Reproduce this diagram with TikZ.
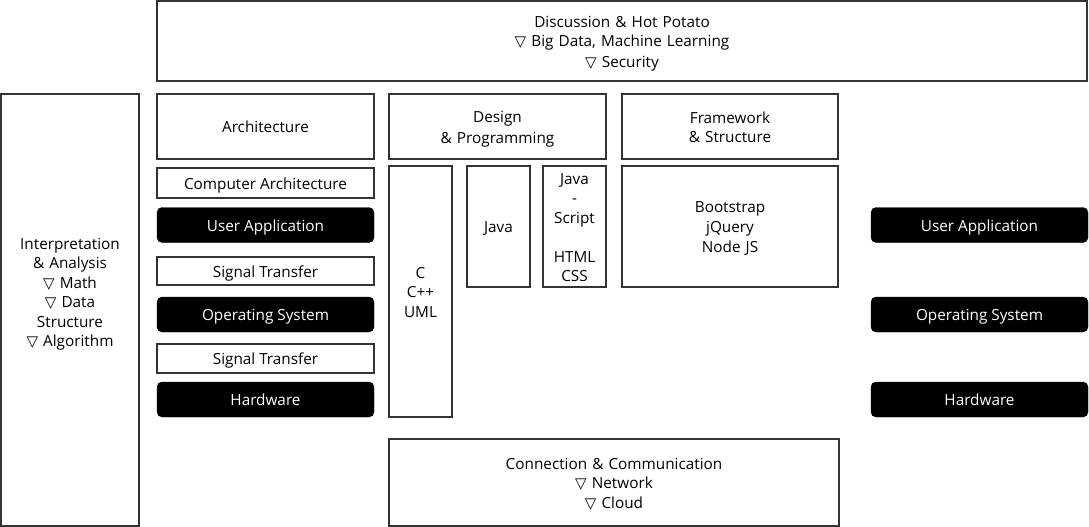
\documentclass[tikz,border=0pt]{standalone}
\usepackage{fontspec}
\setmainfont{Open Sans}
\newfontfamily\symfont{DejaVu Sans}
\newcommand{\tri}{{\symfont\fontsize{15}{15}\selectfont ▽}}
\newcommand{\linestrut}{\rule[-3.5pt]{0pt}{19.5pt}}
\usetikzlibrary{positioning}

\begin{document}
\begin{tikzpicture} [
  x=1pt, y=-1pt,
  every node/.style= {font=\fontsize{15.3}{19.5}\selectfont, align=center, inner sep=0pt,
    execute at begin node=\linestrut, execute at end node=\linestrut},
  plain box/.style= {draw=black!80, line width=1.3pt, fill=white},
  wide box/.style= {plain box, minimum width=217pt},
  black box/.style= {draw=black, fill=black, text=white, rounded corners=5pt, minimum width=217pt, minimum height=35pt},
]
\useasboundingbox (0,0) rectangle (1089,527);

\node (top) [plain box, text width=900pt, minimum width=930pt, minimum height=80pt] at (622,41)
  {Discussion \& Hot Potato\\ \tri\ Big Data, Machine Learning\\ \tri\ Security};
\node (left) [plain box, minimum width=138pt, minimum height=432pt,
  label={[text width=130pt, yshift=18pt]center:{Interpretation\\ \& Analysis\\ \tri\ Math\\ \tri\ Data\\ Structure\\ \tri\ Algorithm}}] at (70,310) {};

% left column
\node (arch) [wide box, minimum height=65pt] at (265.5,126.5) {Architecture};
\node (comparch) [wide box, minimum height=30pt] at (265.5,183) {Computer Architecture};
\node (ua1) [black box] at (265.5,225) {User Application};
\node (st1) [wide box, minimum height=28pt] at (265.5,271) {Signal Transfer};
\node (os1) [black box] at (265.5,314.5) {Operating System};
\node (st2) [wide box, minimum height=29pt] at (265.5,358.5) {Signal Transfer};
\node (hw1) [black box] at (265.5,399.5) {Hardware};

% middle columns
\node (design) [wide box, text width=200pt, minimum height=65pt] at (497.5,126.5) {Design\\ \& Programming};
\node (cc) [plain box, text width=60pt, minimum width=63pt, minimum height=251pt] at (420.5,291.5) {C\\ C++\\ UML};
\node (java) [plain box, minimum width=63pt, minimum height=121pt] at (498.5,226.5) {Java};
\node (js) [plain box, text width=60pt, minimum width=63pt, minimum height=121pt] at (574.5,226.5) {Java\\ -\\ Script\\[19.5pt] HTML\\ CSS};
\node (frame) [plain box, text width=200pt, minimum width=216pt, minimum height=65pt] at (730,126.5) {Framework\\ \& Structure};
\node (boot) [plain box, text width=200pt, minimum width=216pt, minimum height=121pt] at (730,226.5) {Bootstrap\\ jQuery\\ Node JS};
\node (conn) [plain box, text width=440pt, minimum width=450pt, minimum height=87pt] at (614,482.5)
  {Connection \& Communication\\ \tri\ Network\\ \tri\ Cloud};

% right column
\node (ua2) [black box] at (979.5,225) {User Application};
\node (os2) [black box] at (979.5,314.5) {Operating System};
\node (hw2) [black box] at (979.5,399.5) {Hardware};

\end{tikzpicture}
\end{document}
